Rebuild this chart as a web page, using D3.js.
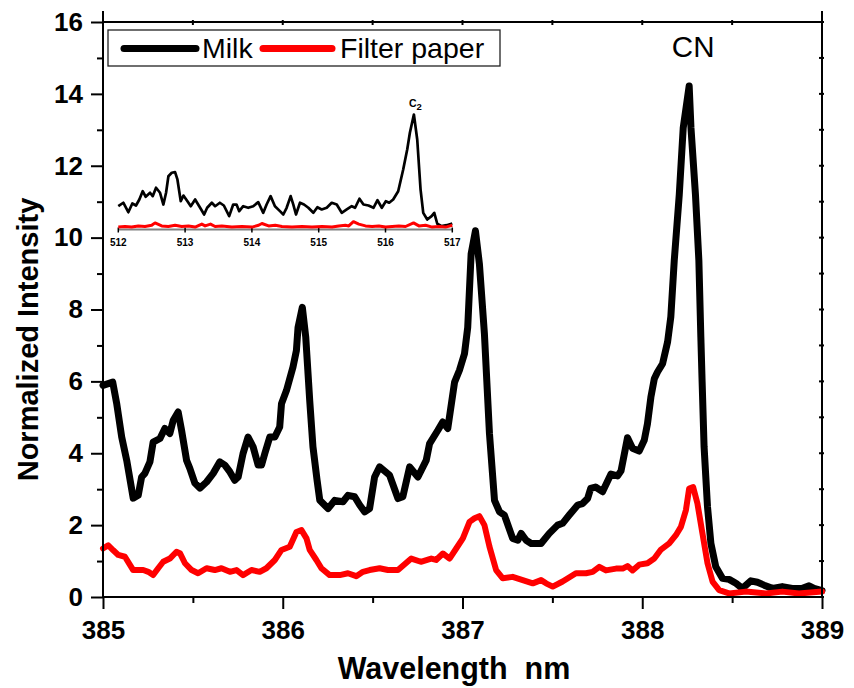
<!DOCTYPE html>
<html>
<head>
<meta charset="utf-8">
<script src="https://cdn.jsdelivr.net/npm/d3@7"></script>
<style>
  html, body { margin: 0; padding: 0; background: #fff; }
  svg { display: block; font-family: "Liberation Sans", Arial, sans-serif; }
</style>
</head>
<body>
<svg id="chart" width="854" height="688"></svg>
<script>
// ---- Emission spectra, 385-389 nm (CN band) ----
const milkWavelength = [385.0,385.054,385.076,385.104,385.132,385.168,385.196,385.215,385.233,385.261,
  385.279,385.317,385.344,385.372,385.391,385.418,385.437,385.465,385.483,385.511,
  385.539,385.576,385.613,385.65,385.678,385.706,385.733,385.752,385.779,385.807,
  385.835,385.863,385.882,385.9,385.928,385.956,385.983,385.993,386.021,386.057,
  386.076,386.085,386.109,386.128,386.15,386.168,386.191,386.206,386.252,386.289,
  386.335,386.363,386.4,386.428,386.456,386.483,386.511,386.539,386.594,386.641,
  386.668,386.706,386.752,386.798,386.817,386.863,386.89,386.918,386.956,386.983,
  387.011,387.029,387.048,387.072,387.094,387.122,387.15,387.178,387.206,387.233,
  387.279,387.308,387.326,387.354,387.382,387.437,387.483,387.529,387.557,387.594,
  387.641,387.668,387.696,387.713,387.74,387.779,387.826,387.863,387.882,387.918,
  387.946,387.983,388.011,388.029,388.048,388.067,388.085,388.113,388.141,388.159,
  388.178,388.206,388.228,388.261,388.271,388.296,388.315,388.326,388.333,388.344,
  388.363,388.382,388.409,388.446,388.483,388.521,388.557,388.604,388.641,388.678,
  388.724,388.779,388.835,388.891,388.928,388.956,389.0];
const milkIntensity = [5.89,5.98,5.39,4.45,3.8,2.75,2.83,3.34,3.44,3.76,
  4.31,4.41,4.69,4.55,4.92,5.15,4.64,3.8,3.58,3.17,
  3.03,3.2,3.44,3.76,3.67,3.48,3.25,3.34,3.99,4.45,
  4.18,3.67,3.67,3.99,4.45,4.45,4.73,5.38,5.75,6.4,
  6.86,7.5,8.06,7.23,5.47,4.18,3.25,2.69,2.46,2.69,
  2.65,2.83,2.79,2.56,2.37,2.46,3.34,3.62,3.39,2.74,
  2.79,3.62,3.34,3.8,4.27,4.64,4.87,4.69,5.98,6.31,
  6.77,7.5,9.55,10.19,9.27,7.32,4.55,2.69,2.37,2.28,
  1.63,1.58,1.77,1.58,1.49,1.49,1.77,2.0,2.05,2.28,
  2.56,2.6,2.74,3.02,3.06,2.93,3.42,3.37,3.51,4.43,
  4.14,4.06,4.36,4.82,5.56,6.07,6.26,6.49,7.1,7.8,
  9.36,11.2,13.06,14.22,13.06,11.2,9.36,7.23,6.0,4.18,
  2.51,1.49,0.84,0.52,0.49,0.38,0.24,0.45,0.41,0.33,
  0.24,0.29,0.24,0.24,0.31,0.24,0.18];

const paperWavelength = [385.0,385.029,385.057,385.085,385.122,385.168,385.224,385.252,385.279,385.307,
  385.335,385.372,385.409,385.428,385.456,385.493,385.529,385.576,385.622,385.659,
  385.706,385.743,385.779,385.826,385.872,385.909,385.956,385.993,386.039,386.076,
  386.104,386.132,386.15,386.187,386.215,386.261,386.317,386.363,386.409,386.446,
  386.483,386.539,386.585,386.641,386.715,386.768,386.826,386.853,386.891,386.928,
  386.965,387.002,387.039,387.067,387.094,387.122,387.15,387.187,387.224,387.279,
  387.335,387.391,387.437,387.465,387.502,387.557,387.631,387.687,387.724,387.761,
  387.798,387.854,387.891,387.918,387.946,387.983,388.029,388.067,388.104,388.15,
  388.187,388.215,388.243,388.261,388.283,388.307,388.335,388.363,388.391,388.428,
  388.483,388.576,388.687,388.779,388.872,389.0];
const paperIntensity = [1.35,1.44,1.3,1.17,1.12,0.75,0.75,0.7,0.61,0.8,
  0.98,1.07,1.26,1.22,0.94,0.75,0.66,0.8,0.75,0.8,
  0.7,0.75,0.61,0.75,0.7,0.8,1.03,1.31,1.4,1.81,
  1.86,1.63,1.31,1.03,0.8,0.61,0.61,0.66,0.58,0.7,
  0.75,0.8,0.75,0.75,1.07,0.98,1.07,1.03,1.21,1.07,
  1.35,1.63,2.09,2.19,2.25,2.0,1.4,0.75,0.52,0.56,
  0.47,0.38,0.47,0.38,0.29,0.43,0.66,0.66,0.7,0.84,
  0.74,0.79,0.79,0.86,0.74,0.9,0.94,1.07,1.32,1.49,
  1.72,1.95,2.42,3.02,3.06,2.6,1.77,0.94,0.43,0.19,
  0.1,0.15,0.1,0.15,0.1,0.15];

// ---- Inset: 512-517 nm (C2 band), arbitrary units ----
const insetMilkWavelength = [512.0,512.075,512.15,512.21,512.265,512.315,512.365,512.41,512.475,512.515,
  512.565,512.625,512.675,512.715,512.75,512.8,512.85,512.885,512.935,512.975,
  513.035,513.085,513.15,513.225,513.285,513.33,513.4,513.45,513.52,513.58,
  513.66,513.72,513.77,513.81,513.87,513.945,514.02,514.095,514.17,514.22,
  514.28,514.345,514.42,514.47,514.52,514.58,514.62,514.66,514.72,514.78,
  514.845,514.92,514.98,515.045,515.12,515.195,515.27,515.345,515.42,515.495,
  515.545,515.61,515.67,515.745,515.82,515.88,515.945,516.005,516.055,516.115,
  516.19,516.265,516.325,516.365,516.425,516.475,516.525,516.565,516.625,516.69,
  516.73,516.775,516.84,516.915,517.0];
const insetMilkIntensity = [1.94,2.23,1.44,2.17,2.0,2.5,3.19,2.73,3.06,2.78,
  3.48,3.06,2.08,3.06,4.44,4.73,4.78,4.17,2.36,2.83,
  2.36,1.94,2.5,1.81,1.25,1.81,2.23,1.94,2.23,2.0,
  1.11,2.08,2.08,1.53,1.94,1.81,1.94,2.28,1.39,2.08,
  2.78,1.94,1.53,1.25,1.81,2.78,2.08,1.25,2.23,2.08,
  1.81,1.39,1.86,1.67,1.81,2.23,2.08,1.39,1.67,1.94,
  1.81,2.56,2.08,2.0,1.81,2.44,1.81,2.36,2.23,2.5,
  3.19,5.0,6.67,8.06,9.58,7.5,3.33,1.39,0.83,1.11,
  1.39,0.48,0.28,0.36,0.5];

const insetPaperWavelength = [512.0,512.1,512.2,512.3,512.4,512.5,512.55,512.65,512.75,512.85,
  512.95,513.05,513.15,513.25,513.3,513.38,513.45,513.55,513.7,513.85,
  514.0,514.1,514.15,514.25,514.35,514.45,514.6,514.75,514.9,515.05,
  515.2,515.3,515.4,515.45,515.52,515.6,515.7,515.8,515.9,516.0,
  516.1,516.2,516.3,516.42,516.5,516.6,516.7,516.8,516.9,517.0];
const insetPaperIntensity = [0.2,0.25,0.2,0.3,0.25,0.35,0.55,0.3,0.25,0.35,
  0.25,0.3,0.2,0.45,0.3,0.45,0.25,0.3,0.2,0.25,
  0.2,0.35,0.5,0.3,0.35,0.25,0.2,0.25,0.2,0.25,
  0.2,0.3,0.35,0.3,0.65,0.45,0.3,0.25,0.3,0.2,
  0.25,0.3,0.25,0.55,0.3,0.35,0.2,0.25,0.2,0.35];

// ---- Tick labels ----
const xTicks = [385, 386, 387, 388, 389];
const xMinorTicks = [385.5, 386.5, 387.5, 388.5];
const yTicks = [0, 2, 4, 6, 8, 10, 12, 14, 16];
const yMinorTicks = [1, 3, 5, 7, 9, 11, 13, 15];
const insetTicks = [512, 513, 514, 515, 516, 517];
const seriesNames = ["Milk", "Filter paper"];
const seriesColors = ["#000000", "#ff0000"];
const bandLabel = "CN";

// ---- Layout ----
const svg = d3.select("#chart");
const plot = { left: 103, right: 822, top: 22, bottom: 597 };
const x = d3.scaleLinear().domain([385, 389]).range([plot.left, plot.right]);
const y = d3.scaleLinear().domain([0, 16]).range([plot.bottom, plot.top]);

const line = d3.line().x(d => x(d[0])).y(d => y(d[1]));

// Spectra
svg.append("path")
  .datum(d3.zip(milkWavelength, milkIntensity))
  .attr("d", line)
  .attr("fill", "none").attr("stroke", seriesColors[0])
  .attr("stroke-width", 7).attr("stroke-linejoin", "round").attr("stroke-linecap", "round");
svg.append("path")
  .datum(d3.zip(paperWavelength, paperIntensity))
  .attr("d", line)
  .attr("fill", "none").attr("stroke", seriesColors[1])
  .attr("stroke-width", 6).attr("stroke-linejoin", "round").attr("stroke-linecap", "round");

// Frame lines (vertical ones run a little above the top edge)
const frame = svg.append("g").attr("stroke", "#000").attr("stroke-width", 2);
frame.append("line").attr("x1", plot.left).attr("x2", plot.right).attr("y1", plot.top).attr("y2", plot.top);
frame.append("line").attr("x1", plot.left).attr("x2", plot.right + 1).attr("y1", plot.bottom).attr("y2", plot.bottom);
frame.append("line").attr("x1", plot.left).attr("x2", plot.left).attr("y1", plot.top - 11).attr("y2", plot.bottom + 1);
frame.append("line").attr("x1", plot.right).attr("x2", plot.right).attr("y1", plot.top - 11).attr("y2", plot.bottom + 1);

const tickFont = g => g.selectAll("text")
  .attr("font-size", 26).attr("font-weight", "bold").attr("fill", "#000")
  .attr("font-family", "'Liberation Sans', Arial, sans-serif");

// Left axis
const yAxis = svg.append("g").attr("transform", `translate(${plot.left},0)`)
  .call(d3.axisLeft(y).tickValues(yTicks).tickSize(12).tickPadding(8).tickFormat(d3.format("d")));
yAxis.select(".domain").remove();
yAxis.selectAll(".tick line").attr("stroke-width", 2);
yAxis.call(tickFont);
const yMinor = svg.append("g").attr("transform", `translate(${plot.left},0)`)
  .call(d3.axisLeft(y).tickValues(yMinorTicks).tickSize(6).tickFormat(""));
yMinor.select(".domain").remove();
yMinor.selectAll(".tick line").attr("stroke-width", 2);

// Bottom axis
const xAxis = svg.append("g").attr("transform", `translate(0,${plot.bottom})`)
  .call(d3.axisBottom(x).tickValues(xTicks).tickSize(12).tickPadding(12).tickFormat(d3.format("d")));
xAxis.select(".domain").remove();
xAxis.selectAll(".tick line").attr("stroke-width", 2);
xAxis.call(tickFont);
const xMinor = svg.append("g").attr("transform", `translate(0,${plot.bottom})`)
  .call(d3.axisBottom(x).tickValues(xMinorTicks).tickSize(6).tickFormat(""));
xMinor.select(".domain").remove();
xMinor.selectAll(".tick line").attr("stroke-width", 2);

// Small straddling ticks on the top and right edges
const topTicks = xTicks.concat(xMinorTicks);
svg.append("g").selectAll("line").data(topTicks).join("line")
  .attr("x1", d => x(d)).attr("x2", d => x(d))
  .attr("y1", plot.top - 2).attr("y2", plot.top + 3)
  .attr("stroke", "#000").attr("stroke-width", 2);
svg.append("g").selectAll("line").data(d3.range(0, 17)).join("line")
  .attr("x1", plot.right - 3).attr("x2", plot.right + 2)
  .attr("y1", d => y(d)).attr("y2", d => y(d))
  .attr("stroke", "#000").attr("stroke-width", 2);

// Axis titles
svg.append("text")
  .attr("transform", `translate(28,${(plot.top + plot.bottom) / 2 + 30}) rotate(-90)`)
  .attr("text-anchor", "middle").attr("dominant-baseline", "central")
  .attr("font-size", 29).attr("font-weight", "bold")
  .text("Normalized Intensity");
svg.append("text")
  .attr("x", 454).attr("y", 679)
  .attr("text-anchor", "middle").attr("font-size", 30.5).attr("font-weight", "bold")
  .style("white-space", "pre")
  .text("Wavelength  nm");

// Band label
const cnPeak = d3.maxIndex(milkIntensity);
svg.append("text")
  .attr("x", x(milkWavelength[cnPeak]) + 4).attr("y", 57)
  .attr("text-anchor", "middle").attr("font-size", 29.5)
  .text(bandLabel);

// Legend
const legend = svg.append("g");
legend.append("rect").attr("x", 108).attr("y", 30).attr("width", 392).attr("height", 36)
  .attr("fill", "#fff").attr("stroke", "#222").attr("stroke-width", 1.3);
const legendItems = [
  { x0: 124, x1: 196, tx: 202 },
  { x0: 263, x1: 332, tx: 340 }
];
legendItems.forEach((it, i) => {
  legend.append("line").attr("x1", it.x0).attr("x2", it.x1).attr("y1", 48.5).attr("y2", 48.5)
    .attr("stroke", seriesColors[i]).attr("stroke-width", 7).attr("stroke-linecap", "round");
  legend.append("text").attr("x", it.tx).attr("y", 58).attr("font-size", 28.5).text(seriesNames[i]);
});

// ---- Inset ----
const ix = d3.scaleLinear().domain([512, 517]).range([118.3, 452.3]);
const iy = d3.scaleLinear().domain([0, 10]).range([229.5, 109.5]);
const iline = d3.line().x(d => ix(d[0])).y(d => iy(d[1]));
const inset = svg.append("g");

inset.append("line").attr("x1", ix(512)).attr("x2", ix(517)).attr("y1", iy(0)).attr("y2", iy(0))
  .attr("stroke", "#808080").attr("stroke-width", 2);
inset.append("g").selectAll("line").data(insetTicks).join("line")
  .attr("x1", d => ix(d)).attr("x2", d => ix(d))
  .attr("y1", iy(0) - 2).attr("y2", iy(0) + 3)
  .attr("stroke", "#000").attr("stroke-width", 1.5);
inset.append("g").selectAll("text").data(insetTicks).join("text")
  .attr("x", d => ix(d)).attr("y", iy(0) + 16)
  .attr("text-anchor", "middle").attr("font-size", 10).attr("font-weight", "bold")
  .text(d => d);

inset.append("path")
  .datum(d3.zip(insetMilkWavelength, insetMilkIntensity))
  .attr("d", iline).attr("fill", "none").attr("stroke", seriesColors[0])
  .attr("stroke-width", 2.7).attr("stroke-linejoin", "round");
inset.append("path")
  .datum(d3.zip(insetPaperWavelength, insetPaperIntensity))
  .attr("d", iline).attr("fill", "none").attr("stroke", seriesColors[1])
  .attr("stroke-width", 3).attr("stroke-linejoin", "round");

const c2Peak = d3.maxIndex(insetMilkIntensity);
const c2 = inset.append("text")
  .attr("x", ix(insetMilkWavelength[c2Peak]) - 5).attr("y", iy(insetMilkIntensity[c2Peak]) - 8)
  .attr("font-size", 10.5).attr("font-weight", "bold");
c2.append("tspan").text("C");
c2.append("tspan").attr("dy", 3).attr("font-size", 9.5).text("2");
</script>
</body>
</html>
